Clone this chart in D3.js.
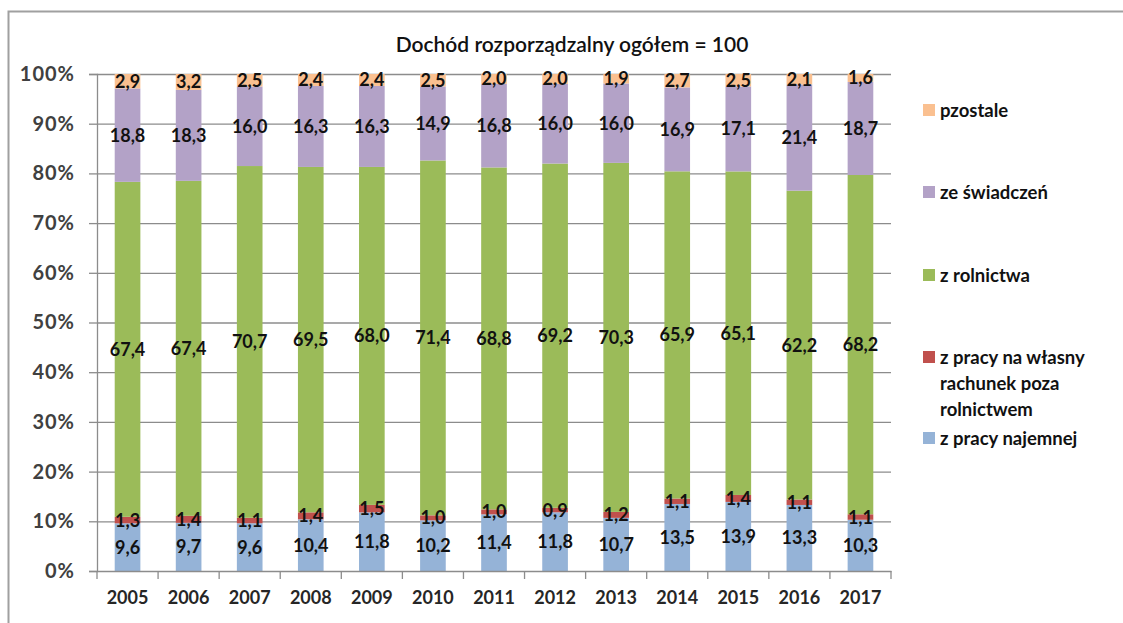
<!DOCTYPE html>
<html><head><meta charset="utf-8">
<script src="https://cdn.jsdelivr.net/npm/d3@7"></script>
<style>body{margin:0;background:#fff}svg{display:block}</style>
</head><body><svg id="c" width="1123" height="623"></svg>
<script>
const years = ["2005","2006","2007","2008","2009","2010","2011","2012","2013","2014","2015","2016","2017"];
const najemnej   = [9.6,9.7,9.6,10.4,11.8,10.2,11.4,11.8,10.7,13.5,13.9,13.3,10.3];
const wlasny     = [1.3,1.4,1.1,1.4,1.5,1.0,1.0,0.9,1.2,1.1,1.4,1.1,1.1];
const rolnictwa  = [67.4,67.4,70.7,69.5,68.0,71.4,68.8,69.2,70.3,65.9,65.1,62.2,68.2];
const swiadczen  = [18.8,18.3,16.0,16.3,16.3,14.9,16.8,16.0,16.0,16.9,17.1,21.4,18.7];
const pozostale  = [2.9,3.2,2.5,2.4,2.4,2.5,2.0,2.0,1.9,2.7,2.5,2.1,1.6];
const yTicks = [0,10,20,30,40,50,60,70,80,90,100];
const seriesNames = ["z pracy najemnej","z pracy na własny rachunek poza rolnictwem","z rolnictwa","ze świadczeń","pzostale"];
const seriesColors = ["#95B3D7","#C0504D","#9BBB59","#B3A2C7","#FAC090"];
const seriesData = [najemnej, wlasny, rolnictwa, swiadczen, pozostale];
const title = "Dochód rozporządzalny ogółem = 100";

const svg = d3.select("#c");
const font = "Lato, 'Open Sans', sans-serif";
// outer frame
svg.append("path").attr("d","M8.5,640 V11.5 H1140").attr("fill","none").attr("stroke","#a0a0a0").attr("stroke-width",2);

const x = d3.scaleBand().domain(years).range([97,891]).paddingInner(0.58).paddingOuter(0.29);
const xc = d3.scaleBand().domain(years).range([97,891]);
const y = d3.scaleLinear().domain([0,100]).range([571,74]);

// gridlines
svg.append("g").selectAll("line").data(yTicks.filter(d=>d>0)).join("line")
  .attr("x1",97).attr("x2",891).attr("y1",d=>y(d)+0.5).attr("y2",d=>y(d)+0.5)
  .attr("stroke","#8c8c8c").attr("stroke-width",1.3);

// stacked data (100% normalized)
const rows = years.map((yr,i)=>{
  const o={year:yr}; seriesData.forEach((s,k)=>o["s"+k]=s[i]); return o;});
const keys = seriesData.map((s,k)=>"s"+k);
const stack = d3.stack().keys(keys).offset(d3.stackOffsetExpand)(rows);

const g = svg.append("g");
stack.forEach((layer,k)=>{
  g.append("g").attr("fill",seriesColors[k]).selectAll("rect").data(layer).join("rect")
    .attr("x",d=>x(d.data.year)).attr("width",x.bandwidth())
    .attr("y",d=>y(d[1]*100)).attr("height",d=>y(d[0]*100)-y(d[1]*100));
});
// labels
stack.forEach((layer,k)=>{
  g.append("g").selectAll("text").data(layer).join("text")
    .attr("x",d=>x(d.data.year)+x.bandwidth()/2)
    .attr("y",d=>y((d[0]+d[1])/2*100))
    .attr("dy","0.36em").attr("text-anchor","middle")
    .attr("font-family",font).attr("font-weight","bold").attr("font-size",18)
    .attr("fill","#111")
    .text(d=>d3.format(".1f")(d.data["s"+k]).replace(".",","));
});

// y axis
const ya = svg.append("g").attr("transform","translate(97,0)")
  .call(d3.axisLeft(y).tickValues(yTicks).tickSize(8).tickPadding(14).tickFormat(d=>d+"%"));
ya.select(".domain").attr("stroke","#8c8c8c").attr("stroke-width",1.3);
ya.selectAll(".tick line").attr("stroke","#8c8c8c").attr("stroke-width",1.3);
ya.selectAll("text").attr("font-family",font).attr("font-size",20).attr("letter-spacing","1px").attr("font-weight","bold").attr("fill","#404040");

// x axis
const xa = svg.append("g").attr("transform","translate(0,571)")
  .call(d3.axisBottom(xc).tickSize(0).tickPadding(20));
xa.select(".domain").attr("stroke","#8c8c8c").attr("stroke-width",1.3);
xa.selectAll("text").attr("font-family",font).attr("font-size",18).attr("font-weight","bold").attr("fill","#262626");
// category boundary ticks
svg.append("g").selectAll("line").data(d3.range(years.length+1)).join("line")
  .attr("x1",i=>97+i*xc.step()).attr("x2",i=>97+i*xc.step())
  .attr("y1",571).attr("y2",579).attr("stroke","#8c8c8c").attr("stroke-width",1.3);

// title
svg.append("text").attr("x",572).attr("y",52).attr("text-anchor","middle")
  .attr("font-family",font).attr("font-size",21).attr("font-weight","600").attr("fill","#111").text(title);

// legend
const legendItems = [
  {k:4, lines:["pzostale"], y:110},
  {k:3, lines:["ze świadczeń"], y:192},
  {k:2, lines:["z rolnictwa"], y:275},
  {k:1, lines:["z pracy na własny","rachunek poza","rolnictwem"], y:357},
  {k:0, lines:["z pracy najemnej"], y:438}
];
const lg = svg.append("g");
legendItems.forEach(it=>{
  lg.append("rect").attr("x",923).attr("y",it.y-6).attr("width",12).attr("height",12).attr("fill",seriesColors[it.k]);
  const t = lg.append("text").attr("font-family",font).attr("font-size",18.5).attr("font-weight","bold").attr("fill","#111");
  it.lines.forEach((l,i)=>t.append("tspan").attr("x",940).attr("y",it.y+i*26).attr("dy","0.36em").text(l));
});
</script></body></html>
